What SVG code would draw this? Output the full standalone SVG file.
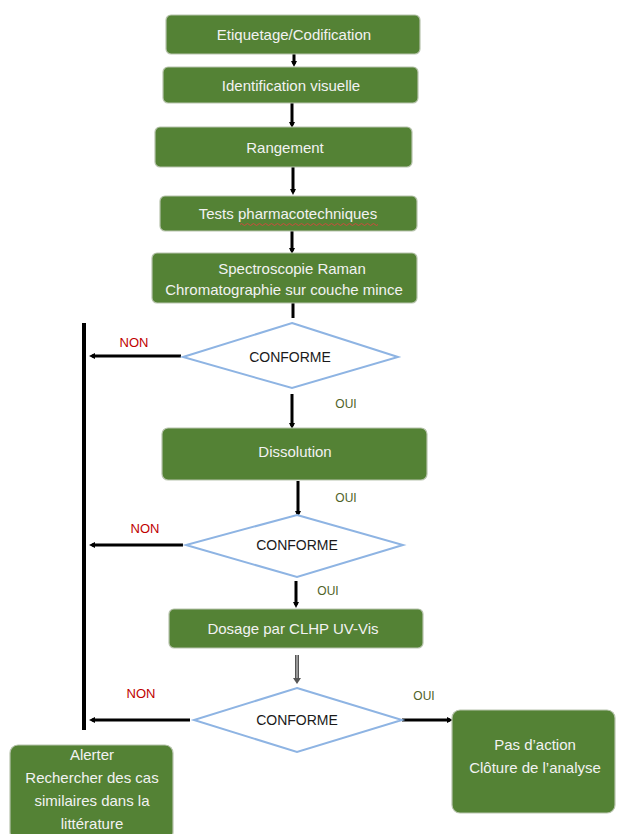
<svg xmlns="http://www.w3.org/2000/svg" width="617" height="834" viewBox="0 0 617 834">
<defs>
<marker id="ah" markerWidth="6" markerHeight="6" refX="3" refY="3" orient="auto" markerUnits="userSpaceOnUse" viewBox="0 0 6 6"><path d="M0,0 L6,3 L0,6 z" fill="#000"/></marker>
</defs>
<style>
.box{fill:#548235;stroke:#b8c4ad;stroke-width:1.2}
.bt{fill:#f2f2f2;font-family:"Liberation Sans",Arial,sans-serif;font-size:15px;text-anchor:middle}
.dia{fill:#fff;stroke:#8eb4e3;stroke-width:2}
.dt{fill:#1a1a1a;font-family:"Liberation Sans",Arial,sans-serif;font-size:14px;text-anchor:middle}
.ln{stroke:#000;stroke-width:3;fill:none}
.non{fill:#c00000;font-family:"Liberation Sans",Arial,sans-serif;font-size:13px;text-anchor:middle}
.oui{fill:#4f6228;font-family:"Liberation Sans",Arial,sans-serif;font-size:12px;text-anchor:middle}
</style>
<rect width="617" height="834" fill="#fff"/>
<g id="connectors">
<line class="ln" x1="294" y1="54" x2="294" y2="64" marker-end="url(#ah)"/>
<line class="ln" x1="292" y1="103" x2="292" y2="125" marker-end="url(#ah)"/>
<line class="ln" x1="293" y1="167" x2="293" y2="192" marker-end="url(#ah)"/>
<line class="ln" x1="292" y1="231" x2="292" y2="251" marker-end="url(#ah)"/>
<line class="ln" x1="293" y1="303" x2="293" y2="318"/>
<line x1="84" y1="323" x2="84" y2="730" stroke="#000" stroke-width="4"/>
<line class="ln" x1="181" y1="356" x2="92" y2="356" marker-end="url(#ah)"/>
<line class="ln" x1="292" y1="394" x2="292" y2="426" marker-end="url(#ah)"/>
<line class="ln" x1="298" y1="481" x2="298" y2="514" marker-end="url(#ah)"/>
<line class="ln" x1="183" y1="545" x2="92" y2="545" marker-end="url(#ah)"/>
<line class="ln" x1="296" y1="581" x2="296" y2="605" marker-end="url(#ah)"/>
<line x1="297" y1="655" x2="297" y2="678" stroke="#555" stroke-width="4"/>
<line x1="297" y1="655" x2="297" y2="678" stroke="#ddd" stroke-width="1"/>
<path d="M293,678 L301,678 L297,684 z" fill="#555"/>
<line class="ln" x1="190" y1="720" x2="92" y2="720" marker-end="url(#ah)"/>
<line class="ln" x1="402" y1="720" x2="450" y2="720" marker-end="url(#ah)"/>
<text class="non" x="134" y="347">NON</text>
<text class="oui" x="346" y="408">OUI</text>
<text class="oui" x="346" y="502">OUI</text>
<text class="non" x="145" y="533">NON</text>
<text class="oui" x="328" y="595">OUI</text>
<text class="non" x="141" y="698">NON</text>
<text class="oui" x="424" y="700">OUI</text>
</g>
<g id="n1"><rect class="box" x="166" y="15" width="254" height="39" rx="5"/><text class="bt" x="294" y="40">Etiquetage/Codification</text></g>
<g id="n2"><rect class="box" x="163" y="67" width="255" height="36" rx="5"/><text class="bt" x="291" y="91">Identification visuelle</text></g>
<g id="n3"><rect class="box" x="155" y="127" width="257" height="40" rx="5"/><text class="bt" x="285" y="153">Rangement</text></g>
<g id="n4"><rect class="box" x="160" y="196" width="257" height="35" rx="5"/><text class="bt" x="288" y="219">Tests pharmacotechniques</text><path d="M240,224.5 q1.5,-2 3,0 t3,0 t3,0 t3,0 t3,0 t3,0 t3,0 t3,0 t3,0 t3,0 t3,0 t3,0 t3,0 t3,0 t3,0 t3,0 t3,0 t3,0 t3,0 t3,0 t3,0 t3,0 t3,0 t3,0 t3,0 t3,0 t3,0 t3,0 t3,0 t3,0 t3,0 t3,0 t3,0 t3,0 t3,0 t3,0 t3,0 t3,0 t3,0 t3,0 t3,0 t3,0 t3,0 t3,0 t3,0 t3,0" fill="none" stroke="#d04a3c" stroke-width="1"/></g>
<g id="n5"><rect class="box" x="152" y="253" width="265" height="50" rx="5"/><text class="bt" x="292" y="274">Spectroscopie Raman</text><text class="bt" x="284" y="295">Chromatographie sur couche mince</text></g>
<g id="d1"><polygon class="dia" points="292,323 398,357 292,388 183,357"/><text class="dt" x="290" y="362">CONFORME</text></g>
<g id="n6"><rect class="box" x="162" y="428" width="265" height="52" rx="6"/><text class="bt" x="295" y="457">Dissolution</text></g>
<g id="d2"><polygon class="dia" points="297,515 403,545 297,577 186,545"/><text class="dt" x="297" y="550">CONFORME</text></g>
<g id="n7"><rect class="box" x="169" y="609" width="254" height="39" rx="5"/><text class="bt" x="293" y="634">Dosage par CLHP UV-Vis</text></g>
<g id="d3"><polygon class="dia" points="297,688 402,720 297,752 194,720"/><text class="dt" x="297" y="725">CONFORME</text></g>
<g id="n8"><rect class="box" x="10" y="745" width="163" height="95" rx="8"/><text class="bt" x="92" y="760">Alerter</text><text class="bt" x="92" y="783">Rechercher des cas</text><text class="bt" x="92" y="806">similaires dans la</text><text class="bt" x="92" y="829">littérature</text></g>
<g id="n9"><rect class="box" x="452" y="710" width="163" height="103" rx="8"/><text class="bt" x="535" y="750">Pas d’action</text><text class="bt" x="535" y="773">Clôture de l’analyse</text></g>
</svg>
